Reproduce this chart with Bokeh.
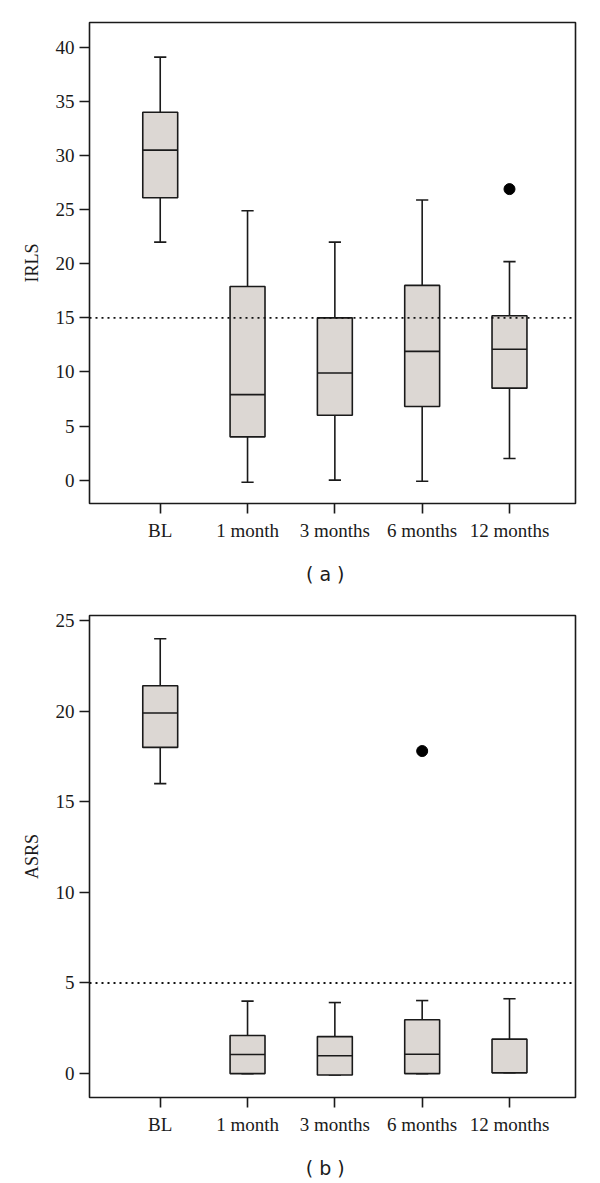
from bokeh.plotting import figure
from bokeh.models import Range1d, FixedTicker, Span, Label
from bokeh.layouts import column
from bokeh.embed import file_html
from bokeh.resources import INLINE

# ---- data ----
categories = ["BL", "1 month", "3 months", "6 months", "12 months"]

irls_low = [22.0, -0.2, 0.0, -0.1, 2.0]
irls_q1 = [26.1, 4.0, 6.0, 6.8, 8.5]
irls_median = [30.5, 7.9, 9.9, 11.9, 12.1]
irls_q3 = [34.0, 17.9, 15.0, 18.0, 15.2]
irls_high = [39.1, 24.9, 22.0, 25.9, 20.2]
irls_outlier_cat = ["12 months"]
irls_outlier_val = [26.9]
irls_cutoff = 15

asrs_low = [16.0, 0.0, -0.08, 0.0, 0.05]
asrs_q1 = [18.0, 0.0, -0.08, 0.0, 0.05]
asrs_median = [19.9, 1.05, 0.98, 1.07, 0.05]
asrs_q3 = [21.4, 2.1, 2.04, 2.97, 1.9]
asrs_high = [24.0, 4.0, 3.92, 4.03, 4.13]
asrs_outlier_cat = ["6 months"]
asrs_outlier_val = [17.8]
asrs_cutoff = 5

irls_ticks = [0, 5, 10, 15, 20, 25, 30, 35, 40]
asrs_ticks = [0, 5, 10, 15, 20, 25]

SERIF = "Liberation Serif"
SANS = "DejaVu Sans"
BOX_FILL = "#dcd7d3"
INK = "#1a1a1a"


def make_panel(ylabel, low, q1, med, q3, high, out_cat, out_val, cutoff,
               yticks, yr, height):
    xs = list(range(1, len(categories) + 1))
    p = figure(width=600, height=height, output_backend="svg",
               toolbar_location=None,
               x_range=Range1d(0.19, 5.756), y_range=Range1d(*yr),
               min_border_left=89, min_border_right=25, min_border_top=22,
               min_border_bottom=50)
    p.xgrid.visible = False
    p.ygrid.visible = False
    p.outline_line_color = INK
    p.outline_line_width = 1.6
    p.background_fill_color = "white"
    p.border_fill_color = "white"

    bw = 0.4
    cw = 0.14
    # whiskers
    p.segment(x0=xs, y0=q3, x1=xs, y1=high, line_color=INK, line_width=1.6)
    p.segment(x0=xs, y0=q1, x1=xs, y1=low, line_color=INK, line_width=1.6)
    p.segment(x0=[x - cw / 2 for x in xs], y0=high, x1=[x + cw / 2 for x in xs],
              y1=high, line_color=INK, line_width=1.6)
    p.segment(x0=[x - cw / 2 for x in xs], y0=low, x1=[x + cw / 2 for x in xs],
              y1=low, line_color=INK, line_width=1.6)
    # boxes
    p.vbar(x=xs, width=bw, bottom=q1, top=q3, fill_color=BOX_FILL,
           line_color=INK, line_width=1.6)
    p.segment(x0=[x - bw / 2 for x in xs], y0=med, x1=[x + bw / 2 for x in xs],
              y1=med, line_color=INK, line_width=1.6)
    # outliers
    ox = [categories.index(c) + 1 for c in out_cat]
    p.scatter(x=ox, y=out_val, size=11, fill_color="black", line_color="black")
    # cutoff line
    p.add_layout(Span(location=cutoff, dimension="width", line_color="#111111",
                      line_width=1.8, line_dash="2 4"))

    for ax in (p.xaxis[0], p.yaxis[0]):
        ax.axis_line_color = None
        ax.major_tick_out = 10
        ax.major_tick_in = 0
        ax.minor_tick_line_color = None
        ax.major_tick_line_color = INK
        ax.major_tick_line_width = 1.6
        ax.major_label_text_font = SERIF
        ax.major_label_text_font_size = "19px"
        ax.major_label_text_color = "#1a1a1a"
    p.xaxis.major_label_standoff = 6
    p.yaxis.major_label_standoff = 5

    p.xaxis.ticker = FixedTicker(ticks=xs)
    p.xaxis.major_label_overrides = {x: c for x, c in zip(xs, categories)}
    p.yaxis.ticker = FixedTicker(ticks=yticks)
    p.yaxis.axis_label = ylabel
    p.yaxis.axis_label_text_font = SERIF
    p.yaxis.axis_label_text_font_size = "18px"
    p.yaxis.axis_label_text_font_style = "normal"
    p.yaxis.axis_label_text_color = "#1a1a1a"
    p.yaxis.axis_label_standoff = 11
    return p


def make_caption(text, height, y_center):
    c = figure(width=600, height=height, output_backend="svg",
               toolbar_location=None, x_axis_type=None, y_axis_type=None,
               x_range=Range1d(0, 600), y_range=Range1d(0, height),
               min_border=0, min_border_left=0, min_border_right=0,
               min_border_top=0, min_border_bottom=0)
    c.outline_line_color = None
    c.grid.visible = False
    c.background_fill_color = "white"
    c.border_fill_color = "white"
    c.add_layout(Label(text=text, x=291, y=y_center, text_align="center",
                       text_baseline="middle", text_font=SANS,
                       text_font_size="19px", text_color="#1a1a1a"))
    return c


pa = make_panel("IRLS", irls_low, irls_q1, irls_median, irls_q3, irls_high,
                irls_outlier_cat, irls_outlier_val, irls_cutoff, irls_ticks,
                (-2.16, 42.3), 553)
ca = make_caption("( a )", 40, 20)
pb = make_panel("ASRS", asrs_low, asrs_q1, asrs_median, asrs_q3, asrs_high,
                asrs_outlier_cat, asrs_outlier_val, asrs_cutoff, asrs_ticks,
                (-1.32, 25.28), 554)
cb = make_caption("( b )", 34, 14)

layout = column(pa, ca, pb, cb, spacing=0)
open("out.html", "w").write(file_html(layout, INLINE))
